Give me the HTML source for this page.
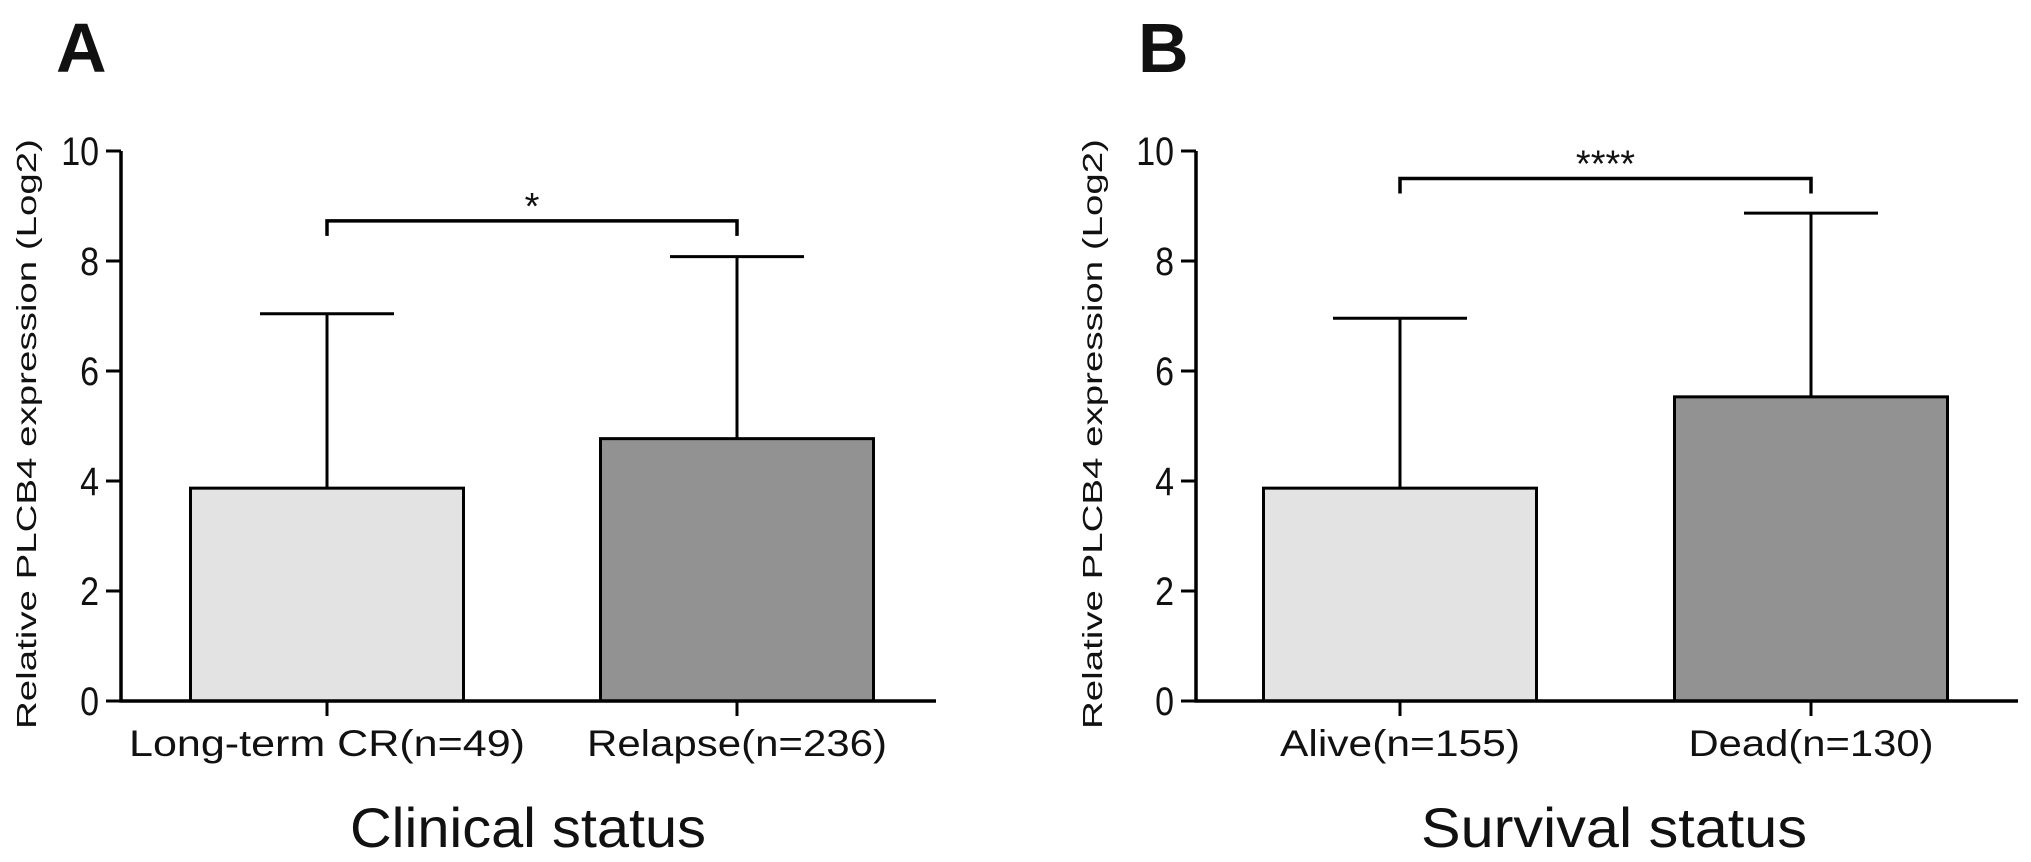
<!DOCTYPE html>
<html><head><meta charset="utf-8"><style>
html,body{margin:0;padding:0;background:#fff}
svg{display:block}
text{font-family:"Liberation Sans",sans-serif;fill:#111}
</style></head><body>
<svg id="fig" width="2031" height="862" viewBox="0 0 2031 862" xmlns="http://www.w3.org/2000/svg">
<text x="56" y="72" font-size="70" font-weight="bold" fill="#000">A</text>
<text x="1138" y="72" font-size="70" font-weight="bold" fill="#000">B</text>
</svg>
<script>
const catsA = ["Long-term CR(n=49)", "Relapse(n=236)"];
const meansA = [3.87, 4.77];
const errA = [7.04, 8.08];
const sigA = "*";
const sigYA = 8.73;
const catsB = ["Alive(n=155)", "Dead(n=130)"];
const meansB = [3.87, 5.53];
const errB = [6.96, 8.87];
const sigB = "****";
const sigYB = 9.5;
const yTicks = [0, 2, 4, 6, 8, 10];
const fills = ["#e3e3e3", "#929292"];

const NS = "http://www.w3.org/2000/svg";
const svg = document.getElementById('fig');
function mk(tag, attrs, parent) {
  const e = document.createElementNS(NS, tag);
  for (const k in attrs) e.setAttribute(k, attrs[k]);
  (parent || svg).appendChild(e);
  return e;
}
function panel(cfg) {
  const g = mk('g', {});
  
  
  const y = v => cfg.y0 - v * 55;
  const barW = 273;
  const cx = i => cfg.c0 + i * cfg.gap;
  cfg.means.forEach((m, i) => {
    const r = mk('rect', {x: cx(i) - barW / 2, y: y(m), width: barW, height: y(0) - y(m), fill: fills[i], stroke: '#000', 'stroke-width': 3}, g);
    
    
    const e = mk('path', {d: `M${cx(i)},${y(m)}V${y(cfg.err[i])}M${cx(i) - 67},${y(cfg.err[i])}H${cx(i) + 67}`, stroke: '#000', 'stroke-width': 3, fill: 'none'}, g);
    
    
    const t = mk('path', {d: `M${cx(i)},${y(0)}V${y(0) + 15}`, stroke: '#000', 'stroke-width': 3}, g);
    
    
    const lb = mk('text', {x: cx(i), y: 756, 'font-size': 37, 'text-anchor': 'middle', textLength: cfg.labW[i], lengthAdjust: 'spacingAndGlyphs'}, g);
    lb.textContent = cfg.cats[i];
    
    
  });
  const ax = mk('path', {d: `M${cfg.ax},${y(10)}V${y(0)}H${cfg.axEnd}`, stroke: '#000', 'stroke-width': 3.5, fill: 'none'}, g);
  
  
  yTicks.forEach(v => {
    const t = mk('path', {d: `M${cfg.ax - 15},${y(v)}H${cfg.ax}`, stroke: '#000', 'stroke-width': 3}, g);
    
    
    const l = mk('text', {x: 0, y: 0, 'font-size': 40, 'text-anchor': 'end', transform: `translate(${cfg.ax - 22},${y(v) + 14}) scale(0.85,1)`}, g);
    l.textContent = v;
    
    
  });
  const yl = mk('text', {x: 0, y: 0, 'font-size': 28, 'text-anchor': 'middle', transform: `translate(${cfg.ylx},${(y(0) + y(10)) / 2 + 8}) rotate(-90)`, textLength: 590, lengthAdjust: 'spacingAndGlyphs'}, g);
  yl.textContent = 'Relative PLCB4 expression (Log2)';
  
  
  const xt = mk('text', {x: cfg.titleX, y: 847, 'font-size': 56, 'text-anchor': 'middle', textLength: cfg.titleW, lengthAdjust: 'spacingAndGlyphs'}, g);
  xt.textContent = cfg.title;
  
  
  const by = y(cfg.sigY);
  const br = mk('path', {d: `M${cx(0)},${by + 15}V${by}H${cx(1)}V${by + 15}`, stroke: '#000', 'stroke-width': 3.5, fill: 'none'}, g);
  
  
  const st = mk('text', {x: (cx(0) + cx(1)) / 2, y: by - 2, 'font-size': 38, 'text-anchor': 'middle', fill: '#555'}, g);
  st.textContent = cfg.sig;
  
  
}
panel({name: 'panel-a-chart', cats: catsA, means: meansA, err: errA, sig: sigA, sigY: sigYA,
  y0: 701, ax: 121, axEnd: 936, c0: 327, gap: 410, ylx: 36, labW: [396, 300],
  title: 'Clinical status', titleX: 528, titleW: 356});
panel({name: 'panel-b-chart', cats: catsB, means: meansB, err: errB, sig: sigB, sigY: sigYB,
  y0: 701, ax: 1196, axEnd: 2018, c0: 1400, gap: 411, ylx: 1102, labW: [240, 245],
  title: 'Survival status', titleX: 1614, titleW: 386});
</script>
</body></html>
